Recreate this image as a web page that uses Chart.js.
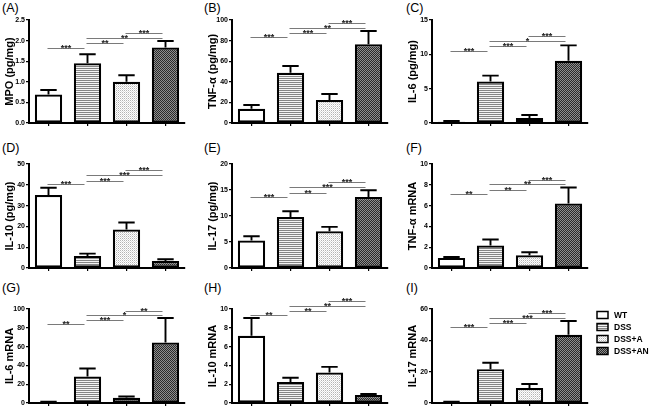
<!DOCTYPE html>
<html>
<head>
<meta charset="utf-8">
<script src="https://cdn.jsdelivr.net/npm/chart.js@4.4.0/dist/chart.umd.min.js"></script>
<style>
  body { margin: 0; background: #fff; width: 650px; height: 417px; overflow: hidden; position: relative; font-family: "Liberation Sans", Arial, sans-serif; }
  .panel { position: absolute; }
  .tag { position: absolute; font-size: 12.5px; line-height: 12px; color: #000; }
</style>
</head>
<body>
<script>
const groups = ["WT", "DSS", "DSS+A", "DSS+AN"];

// (A) MPO
const mpoMean = [0.69, 1.45, 1.00, 1.83];
const mpoErr = [0.11, 0.22, 0.16, 0.16];
const mpoSig = [[0, 1, 1.83, "***"], [1, 2, 1.93, "**"], [1, 3, 2.07, "**"], [2, 3, 2.19, "***"]];
// (B) TNF-a protein
const tnfMean = [13.9, 48.8, 22.3, 76.4];
const tnfErr = [3.6, 6.5, 5.9, 12.9];
const tnfSig = [[0, 1, 83.2, "***"], [1, 2, 87, "***"], [1, 3, 91.9, "**"], [2, 3, 97.4, "***"]];
// (C) IL-6 protein
const il6Mean = [0.2, 6.05, 0.73, 9.05];
const il6Err = [0.1, 0.85, 0.43, 2.25];
const il6Sig = [[0, 1, 10.55, "***"], [1, 2, 11.2, "***"], [1, 3, 11.95, "*"], [2, 3, 12.7, "***"]];
// (D) IL-10 protein
const il10Mean = [35.1, 5.8, 18.5, 3.4];
const il10Err = [3.5, 1.1, 3.4, 0.8];
const il10Sig = [[0, 1, 40.2, "***"], [1, 2, 41.7, "***"], [1, 3, 44.7, "***"], [2, 3, 47.2, "***"]];
// (E) IL-17 protein
const il17Mean = [5.3, 9.8, 7.05, 13.65];
const il17Err = [0.8, 1.1, 0.85, 1.3];
const il17Sig = [[0, 1, 13.65, "***"], [1, 2, 14.4, "**"], [1, 3, 15.5, "***"], [2, 3, 16.5, "***"]];
// (F) TNF-a mRNA
const tnfRnaMean = [0.97, 2.16, 1.22, 6.2];
const tnfRnaErr = [0.09, 0.58, 0.29, 1.54];
const tnfRnaSig = [[0, 1, 7.1, "**"], [1, 2, 7.48, "**"], [1, 3, 8.06, "**"], [2, 3, 8.48, "***"]];
// (G) IL-6 mRNA
const il6RnaMean = [1.0, 28.2, 5.6, 64.3];
const il6RnaErr = [0.4, 8.5, 1.3, 26.2];
const il6RnaSig = [[0, 1, 84, "**"], [1, 2, 87.9, "***"], [1, 3, 93.8, "*"], [2, 3, 98.4, "**"]];
// (H) IL-10 mRNA
const il10RnaMean = [7.15, 2.23, 3.25, 0.85];
const il10RnaErr = [1.9, 0.46, 0.59, 0.1];
const il10RnaSig = [[0, 1, 9.38, "**"], [1, 2, 9.77, "**"], [1, 3, 10.36, "**"], [2, 3, 10.8, "***"]];
// (I) IL-17 mRNA
const il17RnaMean = [0.6, 21.6, 9.5, 43.6];
const il17RnaErr = [0.3, 4.1, 2.6, 8.7];
const il17RnaSig = [[0, 1, 48.3, "***"], [1, 2, 51.1, "***"], [1, 3, 54.5, "***"], [2, 3, 57.2, "***"]];

const FONT = '"Liberation Sans", Arial, sans-serif';

function makePattern(w, h, draw) {
    const c = document.createElement("canvas");
    c.width = w;
    c.height = h;
    const g = c.getContext("2d");
    draw(g);
    return g.createPattern(c, "repeat");
}

const stripes = makePattern(2, 2, g => {
    g.fillStyle = "#f4f4f4"; g.fillRect(0, 0, 2, 2);
    g.fillStyle = "#858585"; g.fillRect(0, 0, 2, 1);
});
const dots = makePattern(2, 2, g => {
    g.fillStyle = "#ffffff"; g.fillRect(0, 0, 2, 2);
    g.fillStyle = "#b4b4b4"; g.fillRect(0, 0, 1, 1);
    g.fillStyle = "#dcdcdc"; g.fillRect(1, 1, 1, 1);
});
const checks = makePattern(2, 2, g => {
    g.fillStyle = "#8e8e8e"; g.fillRect(0, 0, 2, 2);
    g.fillStyle = "#2a2a2a"; g.fillRect(0, 0, 1, 1); g.fillRect(1, 1, 1, 1);
});
const fills = ["#ffffff", stripes, dots, checks];

// upper SEM bars
const errorBars = {
    id: "errorBars",
    afterDatasetsDraw(chart, args, opts) {
        const meta = chart.getDatasetMeta(0);
        const y = chart.scales.y;
        const ctx = chart.ctx;
        const vals = chart.data.datasets[0].data;
        ctx.save();
        ctx.strokeStyle = "#000";
        ctx.lineWidth = 1.9;
        meta.data.forEach((bar, i) => {
            const top = y.getPixelForValue(vals[i] + opts.err[i]);
            const half = bar.width * 0.3;
            ctx.beginPath();
            ctx.moveTo(bar.x, bar.y);
            ctx.lineTo(bar.x, top);
            ctx.moveTo(bar.x - half, top);
            ctx.lineTo(bar.x + half, top);
            ctx.stroke();
        });
        ctx.restore();
    }
};

// significance lines with stars
const sigBars = {
    id: "sigBars",
    afterDraw(chart, args, opts) {
        const x = chart.scales.x, y = chart.scales.y, ctx = chart.ctx;
        ctx.save();
        opts.list.forEach(([a, b, level, mark]) => {
            const x1 = x.getPixelForValue(a) - 1;
            const x2 = x.getPixelForValue(b) - 3;
            const py = Math.round(y.getPixelForValue(level)) + 0.5;
            ctx.strokeStyle = "#7a7a7a";
            ctx.lineWidth = 1.2;
            ctx.beginPath();
            ctx.moveTo(x1, py);
            ctx.lineTo(x2, py);
            ctx.stroke();
            ctx.fillStyle = "#222";
            ctx.font = "bold 9px " + FONT;
            ctx.textAlign = "center";
            ctx.textBaseline = "alphabetic";
            ctx.fillText(mark, (x1 + x2) / 2, py + 2.5);
        });
        ctx.restore();
    }
};

// group key next to panel I
const groupKey = {
    id: "groupKey",
    afterDraw(chart, args, opts) {
        if (!opts.show) return;
        const ctx = chart.ctx;
        const bg = chart.data.datasets[0].backgroundColor;
        ctx.save();
        chart.data.labels.forEach((name, i) => {
            const cy = 35 + i * 12;
            ctx.fillStyle = bg[i];
            ctx.fillRect(194, cy - 3.5, 11, 7);
            ctx.strokeStyle = "#000";
            ctx.lineWidth = 1.5;
            ctx.strokeRect(194, cy - 3.5, 11, 7);
            ctx.fillStyle = "#000";
            ctx.font = "bold 8.5px " + FONT;
            ctx.textAlign = "left";
            ctx.textBaseline = "middle";
            ctx.fillText(name, 211, cy + 0.5);
        });
        ctx.restore();
    }
};

const panels = [
    { tag: "(A)", title: "MPO (pg/mg)", mean: mpoMean, err: mpoErr, sig: mpoSig, max: 2.5, step: 0.5, dec: 1 },
    { tag: "(B)", title: "TNF-\u03b1 (pg/mg)", mean: tnfMean, err: tnfErr, sig: tnfSig, max: 100, step: 20, dec: 0 },
    { tag: "(C)", title: "IL-6 (pg/mg)", mean: il6Mean, err: il6Err, sig: il6Sig, max: 15, step: 5, dec: 0 },
    { tag: "(D)", title: "IL-10 (pg/mg)", mean: il10Mean, err: il10Err, sig: il10Sig, max: 50, step: 10, dec: 0 },
    { tag: "(E)", title: "IL-17 (pg/mg)", mean: il17Mean, err: il17Err, sig: il17Sig, max: 20, step: 5, dec: 0 },
    { tag: "(F)", title: "TNF-\u03b1 mRNA", mean: tnfRnaMean, err: tnfRnaErr, sig: tnfRnaSig, max: 10, step: 2, dec: 0 },
    { tag: "(G)", title: "IL-6 mRNA", mean: il6RnaMean, err: il6RnaErr, sig: il6RnaSig, max: 100, step: 20, dec: 0 },
    { tag: "(H)", title: "IL-10 mRNA", mean: il10RnaMean, err: il10RnaErr, sig: il10RnaSig, max: 10, step: 2, dec: 0 },
    { tag: "(I)", title: "IL-17 mRNA", mean: il17RnaMean, err: il17RnaErr, sig: il17RnaSig, max: 60, step: 20, dec: 0 }
];

const colX = [0, 203, 403];
const rowY = [0, 140, 280];
const rowTop = [20, 24, 29];
const rowH = [131, 136, 131];
const tagX = [2, 204, 406];

panels.forEach((p, n) => {
    const col = n % 3, row = Math.floor(n / 3);
    const last = n === panels.length - 1;
    const w = last ? 247 : 190;

    const tag = document.createElement("div");
    tag.className = "tag";
    tag.textContent = p.tag;
    tag.style.left = tagX[col] + "px";
    tag.style.top = (rowY[row] + 2) + "px";
    document.body.appendChild(tag);

    const box = document.createElement("div");
    box.className = "panel";
    box.style.left = colX[col] + "px";
    box.style.top = rowY[row] + "px";
    const cv = document.createElement("canvas");
    cv.width = w;
    cv.height = rowH[row];
    cv.style.width = w + "px";
    cv.style.height = rowH[row] + "px";
    box.appendChild(cv);
    document.body.appendChild(box);

    new Chart(cv, {
        type: "bar",
        data: {
            labels: groups,
            datasets: [{
                data: p.mean,
                backgroundColor: fills,
                borderColor: "#000",
                borderWidth: 2.2,
                borderSkipped: false,
                barPercentage: 0.7,
                categoryPercentage: 1
            }]
        },
        options: {
            responsive: false,
            animation: false,
            devicePixelRatio: 1,
            layout: { padding: { top: rowTop[row], right: w - 185, left: 0, bottom: 0 } },
            plugins: {
                legend: { display: false },
                tooltip: { enabled: false },
                errorBars: { err: p.err },
                sigBars: { list: p.sig },
                groupKey: { show: last }
            },
            scales: {
                x: {
                    grid: { offset: false, drawOnChartArea: false, tickLength: 3, color: "#000", lineWidth: 1.2 },
                    border: { color: "#000", width: 2 },
                    ticks: { display: false },
                    afterFit: s => { s.height = 8; }
                },
                y: {
                    min: 0,
                    max: p.max,
                    ticks: {
                        stepSize: p.step,
                        color: "#000",
                        padding: 1,
                        font: { size: 7, weight: "bold", family: FONT },
                        callback: v => v.toFixed(p.dec)
                    },
                    grid: { drawOnChartArea: false, tickLength: 3, color: "#000", lineWidth: 1.2 },
                    border: { color: "#000", width: 2 },
                    title: {
                        display: true,
                        text: p.title,
                        color: "#000",
                        padding: { top: 3.5, bottom: 0 },
                        font: { size: 11, weight: "bold", family: FONT }
                    },
                    afterFit: s => { s.width = 29; }
                }
            }
        },
        plugins: [errorBars, sigBars, groupKey]
    });
});
</script>
</body>
</html>
